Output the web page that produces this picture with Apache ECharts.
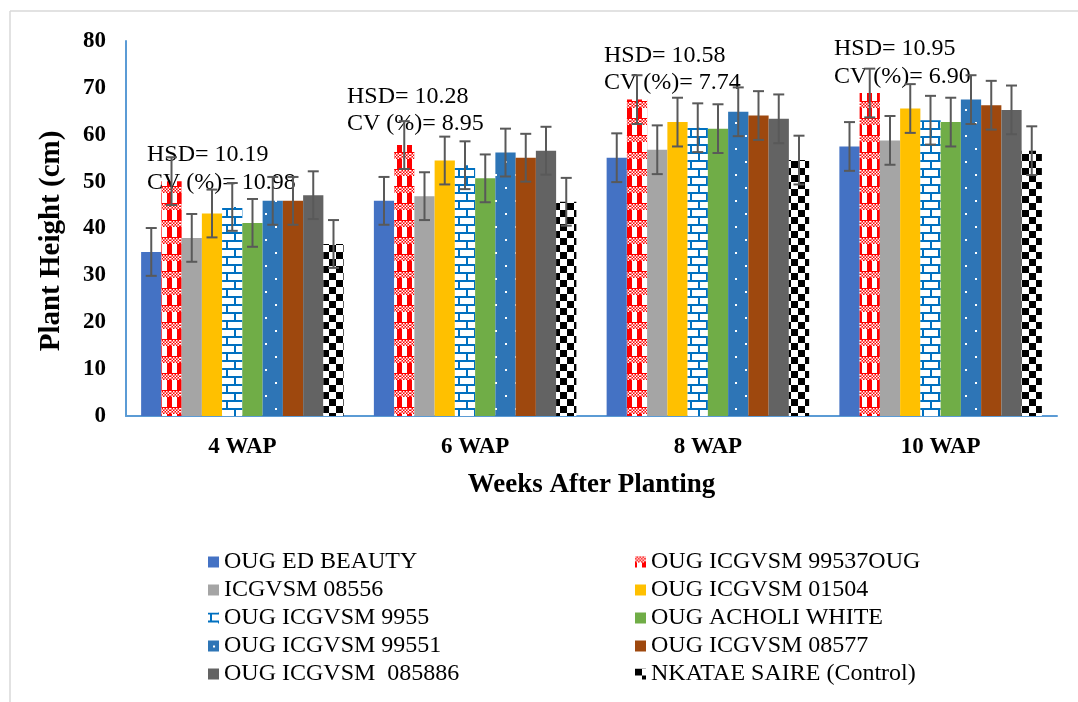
<!DOCTYPE html>
<html>
<head>
<meta charset="utf-8">
<script src="https://cdn.jsdelivr.net/npm/echarts@6/dist/echarts.min.js"></script>
<style>
html,body{margin:0;padding:0;background:#fff;}
#main{width:1078px;height:702px;}
</style>
</head>
<body>
<div id="main"></div>
<script>
// ---------- DATA ----------
const categories = ['4 WAP', '6 WAP', '8 WAP', '10 WAP'];
const seriesNames = [
  'OUG ED BEAUTY', 'OUG ICGVSM 99537OUG', 'ICGVSM 08556', 'OUG ICGVSM 01504',
  'OUG ICGVSM 9955', 'OUG ACHOLI WHITE', 'OUG ICGVSM 99551', 'OUG ICGVSM 08577',
  'OUG ICGVSM  085886', 'NKATAE SAIRE (Control)'
];
const edBeauty   = [35.0, 45.9, 55.1, 57.5];
const icg99537   = [50.1, 57.8, 67.5, 68.9];
const icg08556   = [38.0, 46.9, 56.8, 58.8];
const icg01504   = [43.2, 54.5, 62.7, 65.6];
const icg9955    = [44.6, 53.5, 61.5, 63.1];
const acholi     = [41.2, 50.7, 61.3, 62.7];
const icg99551   = [45.9, 56.2, 64.9, 67.5];
const icg08577   = [45.9, 55.1, 64.1, 66.3];
const icg085886  = [47.1, 56.6, 63.4, 65.3];
const nkatae     = [36.7, 45.7, 54.6, 56.6];
const errorHalf  = [5.1, 5.1, 5.2, 5.2];
const hsdLabels  = ['10.19', '10.28', '10.58', '10.95'];
const cvLabels   = ['10.98', '8.95', '7.74', '6.90'];
const yTicks     = [0, 80, 10]; // min, max, interval

const allValues = [edBeauty, icg99537, icg08556, icg01504, icg9955, acholi, icg99551, icg08577, icg085886, nkatae];

// ---------- PATTERNS ----------
function makeCanvas(w, h, draw) {
  const c = document.createElement('canvas');
  c.width = w; c.height = h;
  const ctx = c.getContext('2d');
  draw(ctx, w, h);
  return c;
}
const ginghamRed = makeCanvas(10, 17, (ctx) => {
  ctx.fillStyle = '#FF0000'; ctx.fillRect(0, 0, 10, 17);
  ctx.fillStyle = '#ffffff'; ctx.fillRect(2, 6, 5, 10);
  for (let y = 0; y < 5; y += 1.5) {
    for (let x = 0; x < 10; x += 1.5) {
      if ((Math.round(x / 1.5) + Math.round(y / 1.5)) % 2 === 0) {
        ctx.fillStyle = '#ffffff'; ctx.fillRect(x, y, 1.5, 1.5);
      }
    }
  }
});
const brickBlue = makeCanvas(16, 16, (ctx) => {
  ctx.fillStyle = '#ffffff'; ctx.fillRect(0, 0, 16, 16);
  ctx.fillStyle = '#0070C0';
  ctx.fillRect(0, 0, 16, 2);
  ctx.fillRect(0, 8, 16, 2);
  ctx.fillRect(2, 2, 2, 6);
  ctx.fillRect(10, 10, 2, 6);
});
const dottedBlue = makeCanvas(20, 26, (ctx) => {
  ctx.fillStyle = '#2E75B6'; ctx.fillRect(0, 0, 20, 26);
  ctx.fillStyle = '#ffffff';
  ctx.fillRect(5, 5, 2, 2);
  ctx.fillRect(15, 18, 2, 2);
});
const checkerBlack = makeCanvas(14, 14, (ctx) => {
  ctx.fillStyle = '#ffffff'; ctx.fillRect(0, 0, 14, 14);
  ctx.fillStyle = '#000000';
  ctx.fillRect(0, 0, 7, 7);
  ctx.fillRect(7, 7, 7, 7);
});

const seriesColors = [
  '#4472C4',
  { image: ginghamRed, repeat: 'repeat' },
  '#A5A5A5',
  '#FFC000',
  { image: brickBlue, repeat: 'repeat' },
  '#70AD47',
  { image: dottedBlue, repeat: 'repeat' },
  '#9E480E',
  '#636363',
  { image: checkerBlack, repeat: 'repeat' }
];

const FONT = 'Liberation Serif';
const GAP = 0.13;
const NBARS = allValues.length;

const series = [];
allValues.forEach((vals, i) => {
  series.push({
    name: seriesNames[i],
    type: 'bar',
    data: vals,
    barGap: '0%',
    barCategoryGap: (GAP * 100) + '%',
    itemStyle: { color: seriesColors[i] },
    z: 2
  });
});
allValues.forEach((vals, i) => {
  series.push({
    type: 'custom',
    z: 5,
    silent: true,
    encode: { x: 0, y: 1 },
    data: vals.map((v, k) => [k, v, errorHalf[k]]),
    renderItem: function (params, api) {
      const k = api.value(0), v = api.value(1), e = api.value(2);
      const c = api.coord([k, v]);
      const band = api.size([1, 0])[0];
      const groupW = band * (1 - GAP);
      const bw = groupW / NBARS;
      const x = c[0] - groupW / 2 + (i + 0.5) * bw;
      const top = api.coord([k, v + e])[1];
      const bot = api.coord([k, v - e])[1];
      const cap = 5.5;
      const st = { stroke: '#595959', lineWidth: 2 };
      return {
        type: 'group',
        children: [
          { type: 'line', shape: { x1: x, y1: top, x2: x, y2: bot }, style: st },
          { type: 'line', shape: { x1: x - cap, y1: top, x2: x + cap, y2: top }, style: st },
          { type: 'line', shape: { x1: x - cap, y1: bot, x2: x + cap, y2: bot }, style: st }
        ]
      };
    }
  });
});

const annotPos = [[147, 155, 183], [347, 97, 124], [604, 56, 83], [834, 49, 77]];
const graphics = [
  { type: 'line', shape: { x1: 10, y1: 11, x2: 10, y2: 702 }, style: { stroke: '#d9d9d9', lineWidth: 1.5 }, silent: true },
  { type: 'line', shape: { x1: 10, y1: 11, x2: 1078, y2: 11 }, style: { stroke: '#d9d9d9', lineWidth: 1.5 }, silent: true },
  { type: 'text', x: 52, y: 241, rotation: Math.PI / 2, z: 3,
    style: { text: 'Plant Height (cm)', fontFamily: FONT, fontSize: 29, fontWeight: 'bold', fill: '#000',
             textAlign: 'center', textVerticalAlign: 'middle' } }
];
categories.forEach((c, k) => {
  const p = annotPos[k];
  graphics.push({ type: 'text', x: p[0], y: p[1], z: 3,
    style: { text: 'HSD= ' + hsdLabels[k], fontFamily: FONT, fontSize: 24, fill: '#000', textVerticalAlign: 'middle' } });
  graphics.push({ type: 'text', x: p[0], y: p[2], z: 3,
    style: { text: 'CV (%)= ' + cvLabels[k], fontFamily: FONT, fontSize: 24, fill: '#000', textVerticalAlign: 'middle' } });
});

const legendCommon = {
  orient: 'vertical',
  itemWidth: 11,
  itemHeight: 11,
  itemGap: 4,
  icon: 'rect',
  textStyle: { fontFamily: FONT, fontSize: 24, color: '#000', lineHeight: 24 },
  selectedMode: false
};

const option = {
  animation: false,
  backgroundColor: '#ffffff',
  textStyle: { fontFamily: FONT },
  grid: { left: 126, right: 21, top: 41, bottom: 286, containLabel: false },
  legend: [
    Object.assign({}, legendCommon, { left: 203, top: 545, data: seriesNames.filter((_, i) => i % 2 === 0) }),
    Object.assign({}, legendCommon, { left: 630, top: 545, data: seriesNames.filter((_, i) => i % 2 === 1) })
  ],
  xAxis: {
    type: 'category',
    data: categories,
    name: 'Weeks After Planting',
    nameLocation: 'middle',
    nameGap: 56,
    nameTextStyle: { fontFamily: FONT, fontSize: 27, fontWeight: 'bold', color: '#000' },
    axisLine: { lineStyle: { color: '#5B9BD5', width: 2 } },
    axisTick: { show: false },
    axisLabel: { fontFamily: FONT, fontSize: 23, fontWeight: 'bold', color: '#000', margin: 20 }
  },
  yAxis: {
    type: 'value',
    min: yTicks[0], max: yTicks[1], interval: yTicks[2],
    axisLine: { show: true, lineStyle: { color: '#5B9BD5', width: 2 } },
    axisTick: { show: false },
    splitLine: { show: false },
    axisLabel: { fontFamily: FONT, fontSize: 23, fontWeight: 'bold', color: '#000', margin: 20 }
  },
  graphic: graphics,
  series: series
};

const chart = echarts.init(document.getElementById('main'), null, { renderer: 'canvas' });
chart.setOption(option);
</script>
</body>
</html>
